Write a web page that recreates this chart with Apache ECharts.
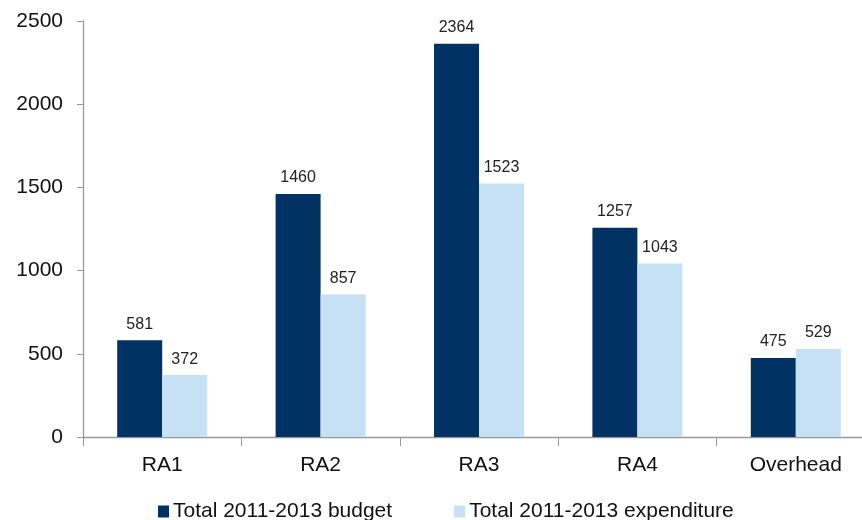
<!DOCTYPE html>
<html>
<head>
<meta charset="utf-8">
<script src="https://cdn.jsdelivr.net/npm/echarts@6/dist/echarts.min.js"></script>
<style>html,body{margin:0;padding:0;background:#fff}#c{width:862px;height:520px}</style>
</head>
<body>
<div id="c"></div>
<script>
const categories = ['RA1', 'RA2', 'RA3', 'RA4', 'Overhead'];
const budget = [581, 1460, 2364, 1257, 475];
const expenditure = [372, 857, 1523, 1043, 529];
const seriesNames = ['Total 2011-2013 budget', 'Total 2011-2013 expenditure'];

const chart = echarts.init(document.getElementById('c'));
const font = 'Liberation Sans, Arial, sans-serif';
const label = {show: true, position: 'top', distance: 8, fontSize: 16, color: '#222', fontFamily: font};
chart.setOption({
  animation: false,
  grid: {left: 83, top: 21, width: 792, bottom: 83, containLabel: false, outerBoundsMode: 'none'},
  legend: {
    top: 496, left: 153, itemWidth: 11, itemHeight: 12, itemGap: 62,
    icon: 'rect',
    textStyle: {fontSize: 21, color: '#111', fontFamily: font, padding: [0, 0, 0, -1]},
    data: seriesNames
  },
  xAxis: {
    type: 'category', data: categories,
    axisLine: {lineStyle: {color: '#999', width: 1.3}},
    axisTick: {show: true, length: 9, lineStyle: {color: '#999'}},
    axisLabel: {fontSize: 21, color: '#111', margin: 18, fontFamily: font}
  },
  yAxis: {
    type: 'value', min: 0, max: 2500, interval: 500,
    axisLine: {show: true, lineStyle: {color: '#999', width: 1.3}},
    axisTick: {show: true, length: 6, lineStyle: {color: '#999'}},
    splitLine: {show: false},
    axisLabel: {fontSize: 21, color: '#111', margin: 20, fontFamily: font, formatter: v => String(v)}
  },
  series: [
    {name: seriesNames[0], type: 'bar', data: budget, barWidth: 45, barGap: '0%',
     itemStyle: {color: '#003264'}, label: label},
    {name: seriesNames[1], type: 'bar', data: expenditure, barWidth: 45, barGap: '0%',
     itemStyle: {color: '#C6E0F4'}, label: label}
  ]
});
</script>
</body>
</html>
